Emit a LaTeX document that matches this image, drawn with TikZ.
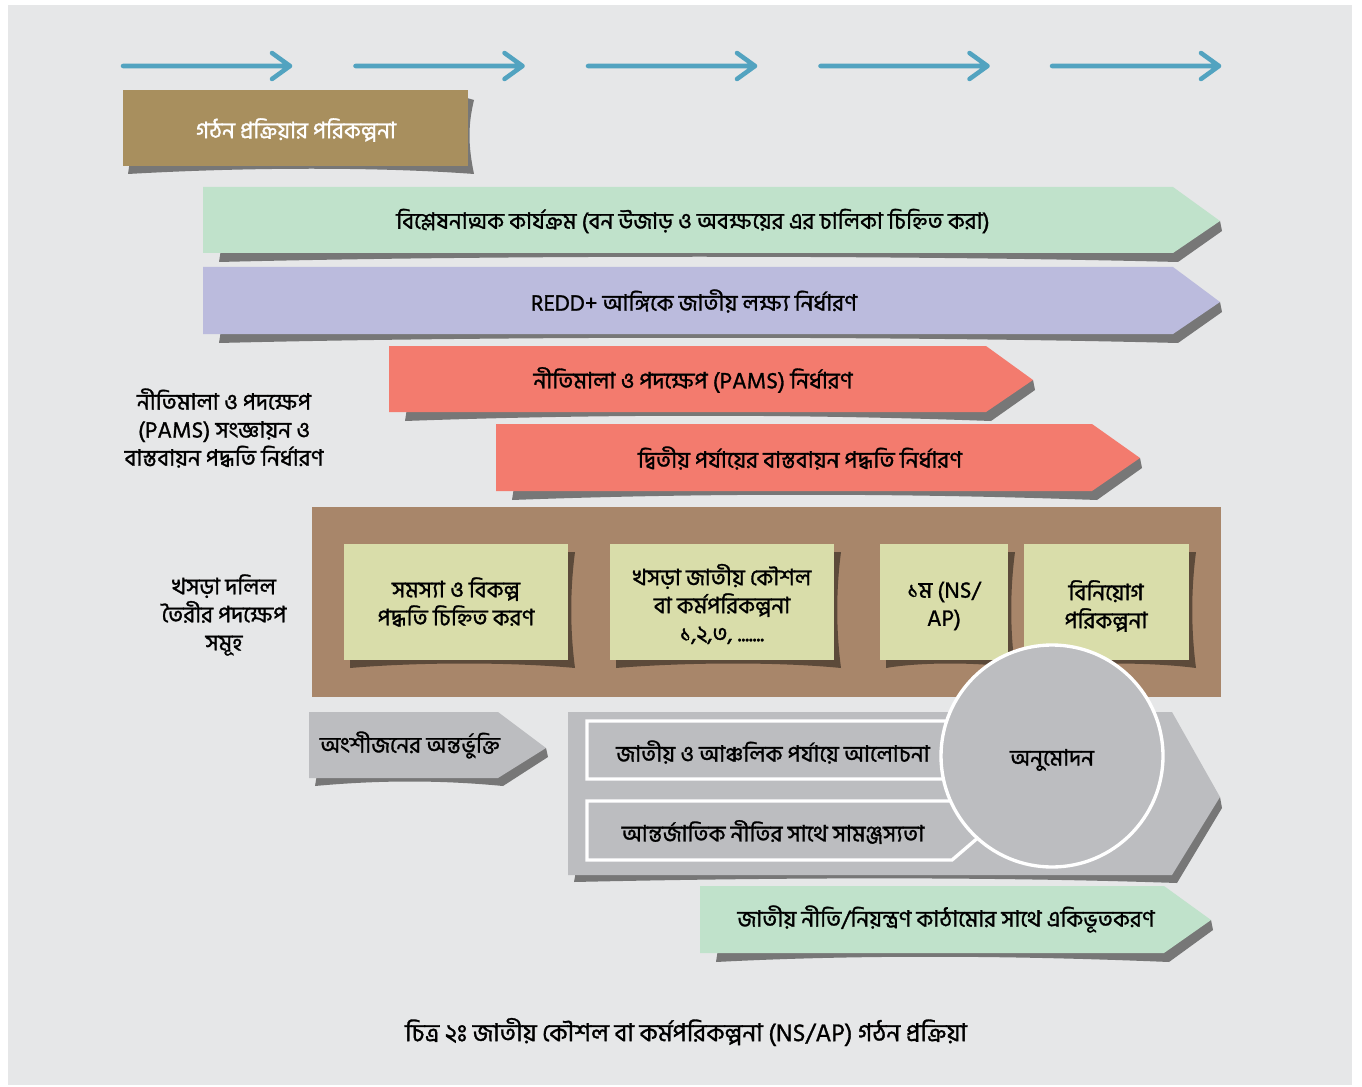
\documentclass[tikz,border=0pt]{standalone}
\usepackage{fontspec}
\setmainfont[Script=Bengali,FakeBold=1.2]{Hind Siliguri}
\definecolor{bggray}{RGB}{230,231,232}
\definecolor{flowblue}{RGB}{82,163,192}
\definecolor{planbrown}{RGB}{168,143,94}
\definecolor{mint}{RGB}{192,226,203}
\definecolor{lavender}{RGB}{187,187,221}
\definecolor{salmon}{RGB}{243,123,110}
\definecolor{panelbrown}{RGB}{168,134,106}
\definecolor{paleyellow}{RGB}{217,221,170}
\definecolor{stepgray}{RGB}{188,189,192}
\definecolor{shadegray}{RGB}{119,119,119}
\definecolor{shadebrown}{RGB}{92,74,58}
\begin{document}
\begin{tikzpicture}[x=0.75pt,y=0.75pt,yscale=-1,xscale=1,
	shade/.style={fill=shadegray},
	boxshade/.style={fill=shadebrown},
	txt/.style={font=\fontsize{17}{21}\selectfont,align=center,inner sep=0.75pt},
	inbox/.style={draw=white,line width=2.5pt,fill=stepgray}]
	
	%Background
	\fill[white] (0,0) rectangle (1362,1087);
	\fill[bggray] (8,5) rectangle (1352,1085);
	
	%Flow arrows
	\foreach \x in {123,355.5,588,820.5,1052}{
		\draw[flowblue,line width=3.4pt,line cap=round,line join=round] (\x,66) -- (\x+167,66) (\x+149,53) -- (\x+167,66) -- (\x+149,79);
	}
	
	%Shape: planning box
	\fill[shade] (130,160) -- (128,174) .. controls (250,167) and (380,167) .. (474,174) .. controls (468,145) and (468,125) .. (474,100) -- (460,96) -- cycle;
	\fill[planbrown] (123,90) rectangle (468,166);
	% Text Node
	\node[txt,text=white] (plan) at (296,130) {গঠন প্রক্রিয়ার পরিকল্পনা};
	
	%Shape: analysis band
	\fill[shade] (221,249) -- (219,262) .. controls (500,255) and (900,255) .. (1178,262) -- (1222,231) -- (1220,221) -- cycle;
	\fill[mint] (203,187) -- (1173,187) -- (1220,221) -- (1173,253) -- (203,253) -- cycle;
	% Text Node
	\node[txt] (analysis) at (693,221) {বিশ্লেষনাত্মক কার্যক্রম (বন উজাড় ও অবক্ষয়ের এর চালিকা চিহ্নিত করা)};
	
	%Shape: target band
	\fill[shade] (221,330) -- (219,343) .. controls (500,336) and (900,336) .. (1178,343) -- (1222,312) -- (1220,302) -- cycle;
	\fill[lavender] (203,267) -- (1173,267) -- (1220,302) -- (1173,334) -- (203,334) -- cycle;
	% Text Node
	\node[txt] (target) at (694,301) {REDD+ আঙ্গিকে জাতীয় লক্ষ্য নির্ধারণ};
	
	%Shape: PAMS band
	\fill[shade] (407,408) -- (405,421) .. controls (600,414) and (800,414) .. (991,421) -- (1035,390) -- (1033,380) -- cycle;
	\fill[salmon] (389,346) -- (986,346) -- (1033,380) -- (986,412) -- (389,412) -- cycle;
	% Text Node
	\node[txt] (pams) at (693,380) {নীতিমালা ও পদক্ষেপ (PAMS) নির্ধারণ};
	
	%Shape: second phase band
	\fill[shade] (514,487) -- (512,500) .. controls (700,493) and (900,493) .. (1097,500) -- (1142,468) -- (1140,458) -- cycle;
	\fill[salmon] (496,424) -- (1092,424) -- (1140,458) -- (1092,491) -- (496,491) -- cycle;
	% Text Node
	\node[txt] (phase) at (800,458) {দ্বিতীয় পর্যায়ের বাস্তবায়ন পদ্ধতি নির্ধারণ};
	
	% Text Node
	\node[txt] (pamsdef) at (224,428) {নীতিমালা ও পদক্ষেপ\\(PAMS) সংজ্ঞায়ন ও\\বাস্তবায়ন পদ্ধতি নির্ধারণ};
	
	%Shape: draft panel
	\fill[panelbrown] (312,507) rectangle (1221,697);
	% Text Node
	\node[txt] (draftsteps) at (224,615) {খসড়া দলিল\\তৈরীর পদক্ষেপ\\সমূহ};
	
	%Shape: problem box
	\fill[boxshade] (350,655) -- (350,668) .. controls (420,662) and (510,662) .. (575,668) .. controls (570,630) and (570,590) .. (575,552) -- (562,552) -- cycle;
	\fill[paleyellow] (344,544) rectangle (568,660);
	% Text Node
	\node[txt] (problem) at (456,602) {সমস্যা ও বিকল্প\\পদ্ধতি চিহ্নিত করণ};
	
	%Shape: draft strategy box
	\fill[boxshade] (616,655) -- (616,668) .. controls (690,662) and (780,662) .. (841,668) .. controls (836,630) and (836,590) .. (841,552) -- (828,552) -- cycle;
	\fill[paleyellow] (610,544) rectangle (834,660);
	% Text Node
	\node[txt] (draft) at (722,604) {খসড়া জাতীয় কৌশল\\বা কর্মপরিকল্পনা\\১,২,৩, .......};
	
	%Shape: first NS/AP box
	\fill[boxshade] (886,655) -- (886,668) .. controls (920,662) and (980,662) .. (1015,668) .. controls (1010,630) and (1010,590) .. (1015,552) -- (1002,552) -- cycle;
	\fill[paleyellow] (880,544) rectangle (1008,660);
	% Text Node
	\node[txt] (first) at (944,606) {১ম (NS/\\AP)};
	
	%Shape: investment box
	\fill[boxshade] (1030,655) -- (1030,668) .. controls (1080,662) and (1150,662) .. (1196,668) .. controls (1191,630) and (1191,590) .. (1196,552) -- (1183,552) -- cycle;
	\fill[paleyellow] (1024,544) rectangle (1189,660);
	% Text Node
	\node[txt] (invest) at (1106,606) {বিনিয়োগ\\পরিকল্পনা};
	
	%Shape: stakeholder arrow
	\fill[shade] (317,774) -- (315,786) .. controls (380,780) and (440,780) .. (503,786) -- (548,757) -- (546,748) -- cycle;
	\fill[stepgray] (309,712) -- (498,712) -- (546,748) -- (498,778) -- (309,778) -- cycle;
	% Text Node
	\node[txt] (stake) at (410,745) {অংশীজনের অন্তর্ভুক্তি};
	
	%Shape: consultation arrow
	\fill[shade] (576,871) -- (574,882) .. controls (800,877) and (1000,877) .. (1177,883) -- (1222,808) -- (1220,797) -- cycle;
	\fill[stepgray] (568,712) -- (1172,712) -- (1220,797) -- (1172,875) -- (568,875) -- cycle;
	\draw[inbox] (587,721) -- (990,721) -- (1005,750) -- (990,779) -- (587,779) -- cycle;
	\draw[inbox] (587,801) -- (953,801) -- (987,830) -- (952,860) -- (587,860) -- cycle;
	% Text Node
	\node[txt] (discuss) at (773,752) {জাতীয় ও আঞ্চলিক পর্যায়ে আলোচনা};
	% Text Node
	\node[txt] (harmony) at (773,832) {আন্তর্জাতিক নীতির সাথে সামঞ্জস্যতা};
	
	%Shape: approval circle
	\draw[inbox] (1052,756) circle (111);
	% Text Node
	\node[txt] (approve) at (1052,760) {অনুমোদন};
	
	%Shape: integration band
	\fill[shade] (718,949) -- (716,962) .. controls (850,955) and (1000,955) .. (1169,962) -- (1213,930) -- (1211,920) -- cycle;
	\fill[mint] (700,886) -- (1164,886) -- (1211,920) -- (1164,953) -- (700,953) -- cycle;
	% Text Node
	\node[txt] (integrate) at (946,919) {জাতীয় নীতি/নিয়ন্ত্রণ কাঠামোর সাথে একিভূতকরণ};
	
	% Text Node
	\node[txt,font=\fontsize{18.5}{22}\selectfont] (caption) at (686,1032) {চিত্র ২ঃ জাতীয় কৌশল বা কর্মপরিকল্পনা (NS/AP) গঠন প্রক্রিয়া};
	
\end{tikzpicture}
\end{document}
